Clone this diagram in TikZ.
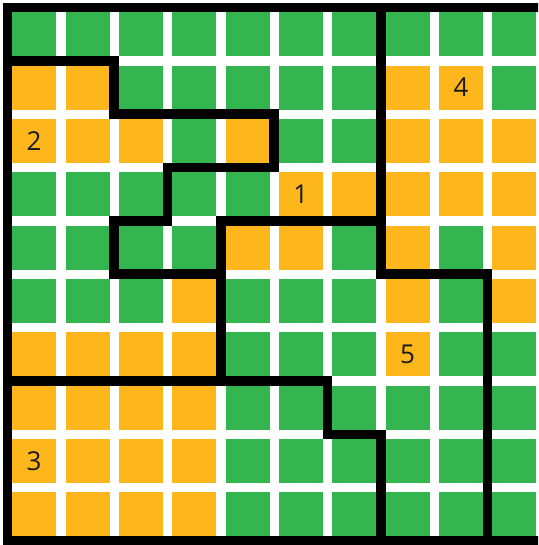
\documentclass[tikz,border=0pt]{standalone}
\usepackage{fontspec}
\setmainfont{Open Sans}
\definecolor{gr}{HTML}{33B54F}
\definecolor{og}{HTML}{FDB71D}
\definecolor{txt}{HTML}{1A1A1A}
\tikzset{
  wall/.style={line width=9.6pt, line cap=rect, line join=miter, black},
  border/.style={line width=9.6pt, line cap=rect, line join=miter, black},
  lab/.style={text=txt, font=\fontsize{26}{26}\selectfont, inner sep=0pt, anchor=center}
}
\begin{document}
\begin{tikzpicture}[x=1pt,y=-1pt]
\useasboundingbox (0,0) rectangle (538,545);
\fill[white] (0,0) rectangle (538,545);
\clip (0,0) rectangle (538,545);
\begin{scope}[shift={(7.5,7.5)}, x=53.35pt, y=-53.35pt]
  \foreach \j/\r in {
    0/{gr,gr,gr,gr,gr,gr,gr,gr,gr,gr},
    1/{og,og,gr,gr,gr,gr,gr,og,og,gr},
    2/{og,og,og,gr,og,gr,gr,og,og,og},
    3/{gr,gr,gr,gr,gr,og,og,og,og,og},
    4/{gr,gr,gr,gr,og,og,gr,og,gr,og},
    5/{gr,gr,gr,og,gr,gr,gr,og,gr,og},
    6/{og,og,og,og,gr,gr,gr,og,gr,gr},
    7/{og,og,og,og,gr,gr,gr,gr,gr,gr},
    8/{og,og,og,og,gr,gr,gr,gr,gr,gr},
    9/{og,og,og,og,gr,gr,gr,gr,gr,gr}} {
    \foreach \c [count=\i from 0] in \r {
      \fill[\c] (\i+0.088,\j+0.088) rectangle +(0.825,0.825);
    }
  }
  % outer border (right side lies outside the picture)
  \draw[border] (10.3,0) -- (0,0) -- (0,10) -- (10.3,10);
  % region walls
  \draw[wall] (0,1) -- (2,1) -- (2,2) -- (5,2) -- (5,3) -- (3,3) -- (3,4) -- (2,4) -- (2,5) -- (4,5);
  \draw[wall] (7,4) -- (4,4) -- (4,7);
  \draw[wall] (7,0) -- (7,5) -- (9,5) -- (9,10);
  \draw[wall] (0,7) -- (6,7) -- (6,8) -- (7,8) -- (7,10);
  % labels
  \node[lab] (n1) at (5.5,3.5) {1};
  \node[lab] (n2) at (0.5,2.5) {2};
  \node[lab] (n3) at (0.5,8.5) {3};
  \node[lab] (n4) at (8.5,1.5) {4};
  \node[lab] (n5) at (7.5,6.5) {5};
\end{scope}
\end{tikzpicture}
\end{document}
